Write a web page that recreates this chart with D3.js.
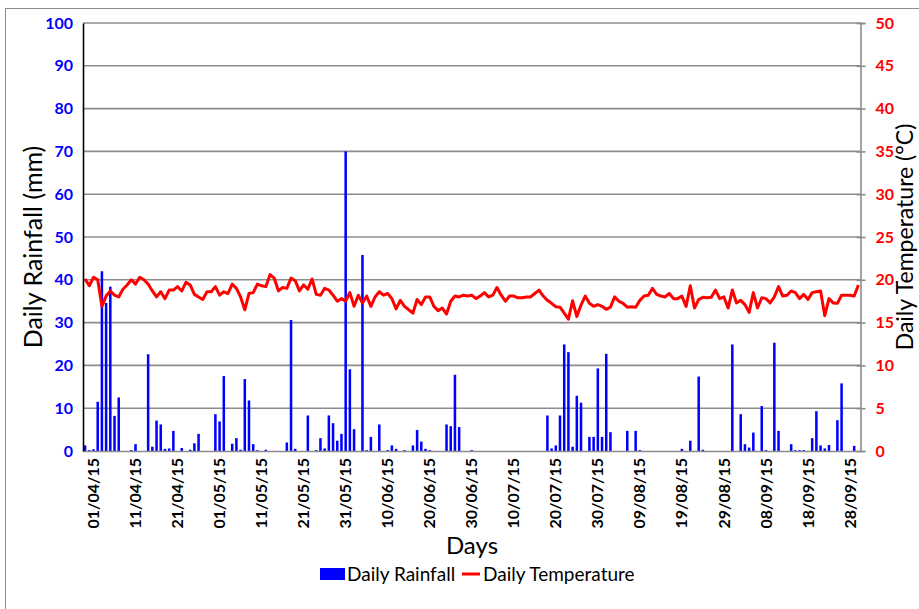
<!DOCTYPE html>
<html>
<head>
<meta charset="utf-8">
<script src="https://cdn.jsdelivr.net/npm/d3@7"></script>
<style>
  html, body { margin: 0; padding: 0; background: #fff; }
  svg { display: block; font-family: Lato, "Open Sans", sans-serif; }
</style>
</head>
<body>
<div id="chart"></div>
<script>
// days 30/03/15 .. 30/09/15
const days = d3.timeDay.range(new Date(2015, 2, 30), new Date(2015, 9, 1)).map(d3.timeFormat("%d/%m/%y"));

const tickLabels = ["01/04/15", "11/04/15", "21/04/15", "01/05/15", "11/05/15", "21/05/15", "31/05/15",
    "10/06/15", "20/06/15", "30/06/15", "10/07/15", "20/07/15", "30/07/15", "09/08/15", "19/08/15",
    "29/08/15", "08/09/15", "18/09/15", "28/09/15"];

const rainTicks = [0, 10, 20, 30, 40, 50, 60, 70, 80, 90, 100];
const tempTicks = [0, 5, 10, 15, 20, 25, 30, 35, 40, 45, 50];

// daily rainfall (mm)
const rainfall = [
    1.3, 0.2, 0.4, 11.5, 42, 34.6, 38.4, 8.2, 12.5, 0,
    0, 0.2, 1.6, 0, 0, 22.6, 1.0, 7.1, 6.2, 0.5,
    0.6, 4.7, 0, 0.7, 0, 0.3, 1.8, 4.0, 0, 0,
    0, 8.6, 6.9, 17.5, 0, 1.7, 3.0, 0.3, 16.8, 11.8,
    1.6, 0.2, 0, 0.3, 0, 0, 0, 0, 2.0, 30.6,
    0.5, 0, 0, 8.3, 0, 0.2, 3.0, 0.6, 8.3, 6.5,
    2.4, 4.0, 70, 19.1, 5.1, 0, 45.8, 0.2, 3.3, 0,
    6.2, 0, 0.2, 1.3, 0.5, 0, 0.2, 0, 1.3, 4.9,
    2.2, 0.5, 0.2, 0, 0, 0, 6.2, 5.8, 17.8, 5.6,
    0, 0, 0.2, 0, 0, 0, 0, 0, 0, 0,
    0, 0, 0, 0, 0, 0, 0, 0, 0, 0,
    8.3, 0.6, 1.3, 8.3, 24.9, 23.1, 1.0, 12.9, 11.3, 0,
    3.3, 3.3, 19.3, 3.3, 22.7, 4.4, 0, 0, 0, 4.7,
    0, 4.7, 0.2, 0, 0, 0, 0, 0, 0, 0,
    0, 0, 0.5, 0, 2.4, 0, 17.4, 0.3, 0, 0,
    0, 0, 0, 0, 24.9, 0, 8.6, 1.6, 0.8, 4.3,
    0, 10.5, 0.2, 0, 25.3, 4.7, 0, 0, 1.6, 0.2,
    0.2, 0.2, 0, 3.0, 9.3, 1.3, 0.6, 1.4, 0, 7.2,
    15.8, 0, 0, 1.2, 0
];

// daily temperature (°C)
const temperature = [
    20.1, 19.3, 20.3, 20.0, 16.9, 18.1, 18.7, 18.2, 18.0, 18.9,
    19.4, 20.0, 19.5, 20.3, 20.0, 19.5, 18.7, 18.0, 18.6, 17.8,
    18.8, 18.8, 19.2, 18.7, 19.7, 19.4, 18.3, 18.0, 17.7, 18.6,
    18.6, 19.2, 18.2, 18.6, 18.4, 19.5, 19.0, 18.0, 16.5, 18.4,
    18.5, 19.5, 19.3, 19.2, 20.6, 20.2, 18.7, 19.1, 19.0, 20.2,
    19.9, 18.7, 19.4, 18.9, 20.1, 18.3, 18.2, 19.0, 18.8, 18.2,
    17.5, 17.8, 17.5, 18.5, 16.9, 18.2, 17.3, 18.1, 16.9, 18.0,
    18.6, 18.2, 18.4, 17.8, 16.6, 17.6, 16.9, 16.5, 16.1, 17.7,
    17.1, 18.0, 18.0, 16.9, 16.4, 16.7, 16.0, 17.5, 18.1, 18.0,
    18.2, 18.1, 18.2, 17.8, 18.1, 18.5, 18.0, 18.2, 19.1, 18.2,
    17.5, 18.1, 18.1, 17.9, 17.9, 18.0, 18.0, 18.4, 18.8, 18.1,
    17.6, 17.25, 16.85, 16.8, 16.1, 15.4, 17.55, 15.7, 17.05, 18.1,
    17.25, 16.9, 17.1, 16.9, 16.55, 16.8, 18.0, 17.5, 17.25, 16.8,
    16.85, 16.8, 17.6, 18.1, 18.2, 19.0, 18.3, 18.1, 18.0, 18.4,
    17.8, 17.8, 18.1, 16.9, 19.3, 16.7, 17.7, 17.95, 17.9, 17.95,
    18.8, 17.8, 18.0, 16.7, 18.8, 17.3, 17.6, 17.1, 16.2, 18.5,
    16.7, 17.9, 17.8, 17.3, 18.0, 19.2, 18.1, 18.2, 18.7, 18.5,
    17.8, 18.3, 17.7, 18.5, 18.6, 18.7, 15.8, 17.8, 17.3, 17.25,
    18.2, 18.2, 18.2, 18.1, 19.4
];

const width = 919, height = 609;
const m = { t: 23, r: 58.5, b: 158, l: 83 };
const iw = width - m.l - m.r, ih = height - m.t - m.b;

const svg = d3.select("#chart").append("svg").attr("width", width).attr("height", height);

// outer frame
svg.append("rect").attr("x", 5.5).attr("y", 8.5).attr("width", 930).attr("height", 620)
    .attr("fill", "none").attr("stroke", "#8c8c8c").attr("stroke-width", 1);

const g = svg.append("g").attr("transform", `translate(${m.l},${m.t})`);

const x = d3.scaleBand().domain(days).range([0, iw]);
const yRain = d3.scaleLinear().domain([0, 100]).range([ih, 0]);
const yTemp = d3.scaleLinear().domain([0, 50]).range([ih, 0]);

// gridlines
g.append("g").selectAll("line").data(rainTicks.slice(1)).enter().append("line")
    .attr("x1", 0).attr("x2", iw)
    .attr("y1", d => yRain(d)).attr("y2", d => yRain(d))
    .attr("stroke", "#8c8c8c").attr("stroke-width", 1.6);

// rainfall bars
const bw = x.bandwidth() * 0.6;
g.append("g").selectAll("rect").data(days).enter().append("rect")
    .attr("x", d => x(d) + (x.bandwidth() - bw) / 2)
    .attr("y", (d, i) => yRain(rainfall[i]))
    .attr("width", bw)
    .attr("height", (d, i) => ih - yRain(rainfall[i]))
    .attr("fill", "#0000ff");

// temperature line
const line = d3.line()
    .x((d, i) => x(days[i]) + x.bandwidth() / 2)
    .y(d => yTemp(d));
g.append("path").datum(temperature)
    .attr("d", line)
    .attr("fill", "none")
    .attr("stroke", "#ff0000")
    .attr("stroke-width", 3)
    .attr("stroke-linejoin", "round");

// bottom axis
const xAxis = g.append("g").attr("transform", `translate(0,${ih})`)
    .call(d3.axisBottom(x).tickValues(tickLabels).tickSize(0).tickPadding(6));
xAxis.select(".domain").attr("stroke", "#8c8c8c").attr("stroke-width", 1.6);
xAxis.selectAll("text")
    .attr("transform", "rotate(-90)")
    .attr("text-anchor", "end")
    .attr("dx", "-7px").attr("dy", "0.35em").attr("y", 0)
    .attr("font-size", 16).attr("font-weight", "bold").attr("fill", "#000")
    .style("font-family", "Lato, 'Open Sans', sans-serif");

// left axis
const yl = g.append("g")
    .call(d3.axisLeft(yRain).tickValues(rainTicks).tickSize(0).tickPadding(10));
yl.select(".domain").attr("stroke", "#000").attr("stroke-width", 1.6);
yl.selectAll("text").attr("fill", "#0000ff").attr("font-size", 16).attr("font-weight", "bold")
    .style("font-family", "Lato, 'Open Sans', sans-serif");

// right axis
const yr = g.append("g").attr("transform", `translate(${iw},0)`)
    .call(d3.axisRight(yTemp).tickValues(tempTicks).tickSize(5).tickPadding(10));
yr.select(".domain").attr("stroke", "#8c8c8c").attr("stroke-width", 1.6);
yr.selectAll(".tick line").attr("x1", -4).attr("x2", 5).attr("stroke", "#8c8c8c").attr("stroke-width", 1.6);
yr.selectAll("text").attr("fill", "#ff0000").attr("font-size", 16).attr("font-weight", "bold")
    .style("font-family", "Lato, 'Open Sans', sans-serif");

// axis titles
svg.append("text")
    .attr("transform", `translate(42,${m.t + ih / 2 + 10}) rotate(-90)`)
    .attr("text-anchor", "middle")
    .attr("font-size", 25).attr("fill", "#000")
    .text("Daily Rainfall (mm)");

svg.append("text")
    .attr("transform", `translate(913,${m.t + ih / 2}) rotate(-90)`)
    .attr("text-anchor", "middle")
    .attr("font-size", 23).attr("fill", "#000")
    .text("Daily Temperature (°C)");

svg.append("text")
    .attr("x", 472).attr("y", 554)
    .attr("text-anchor", "middle")
    .attr("font-size", 24).attr("fill", "#000")
    .text("Days");

// legend
const lg = svg.append("g").attr("transform", "translate(320,574)");
lg.append("rect").attr("x", 0).attr("y", -6).attr("width", 25).attr("height", 12).attr("fill", "#0000ff");
lg.append("text").attr("x", 27).attr("y", 0).attr("dy", "0.35em")
    .attr("font-size", 19).attr("fill", "#000").text("Daily Rainfall");
lg.append("line").attr("x1", 142).attr("x2", 160).attr("y1", 0).attr("y2", 0)
    .attr("stroke", "#ff0000").attr("stroke-width", 3);
lg.append("text").attr("x", 163).attr("y", 0).attr("dy", "0.35em")
    .attr("font-size", 19).attr("fill", "#000").text("Daily Temperature");
</script>
</body>
</html>
